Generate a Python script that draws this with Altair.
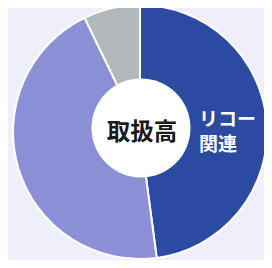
import altair as alt
import pandas as pd

categories = ["リコー関連", "その他", "グレー"]
values = [47.9, 44.9, 7.2]
colors = ["#2b4aa2", "#8a8fd6", "#b3b8bc"]
order = [0, 1, 2]

center_label = ["取扱高"]
slice_lines = ["リコー", "関連"]

df = pd.DataFrame({"cat": categories, "val": values, "ord": order})

W, H = 256, 252
CX, CY = 132, 124

pie = alt.Chart(df).mark_arc(
    outerRadius=127, stroke="white", strokeWidth=2
).encode(
    theta=alt.Theta("val:Q", stack=True),
    order=alt.Order("ord:Q"),
    color=alt.Color("cat:N", scale=alt.Scale(domain=categories, range=colors), legend=None),
    x=alt.value(CX),
    y=alt.value(CY),
)

hole = alt.Chart(pd.DataFrame({"v": [1]})).mark_circle(
    color="white", opacity=1, size=99 * 99
).encode(
    x=alt.value(CX + 1),
    y=alt.value(CY - 4),
)

center = alt.Chart(pd.DataFrame({"t": center_label})).mark_text(
    font="Noto Sans CJK JP", fontWeight="bold", fontSize=23.5, color="#1a1a1a",
    align="center", baseline="middle"
).encode(
    text="t:N", x=alt.value(CX + 2), y=alt.value(CY + 1)
)

lab_df = pd.DataFrame({"t": ["\n".join(slice_lines)]})
labels = alt.Chart(lab_df).mark_text(
    font="Noto Sans CJK JP", fontWeight="bold", fontSize=19, color="white",
    align="left", baseline="middle", lineBreak="\n", lineHeight=25
).encode(
    text="t:N",
    x=alt.value(191),
    y=alt.value(112),
)

chart = alt.layer(pie, hole, center, labels).properties(
    width=W, height=H, padding=0, autosize=alt.AutoSizeParams(type="none"),
    background="#eeeffa"
).configure_view(stroke=None)

chart.save("out.html", embed_options={"renderer": "svg", "actions": False})
